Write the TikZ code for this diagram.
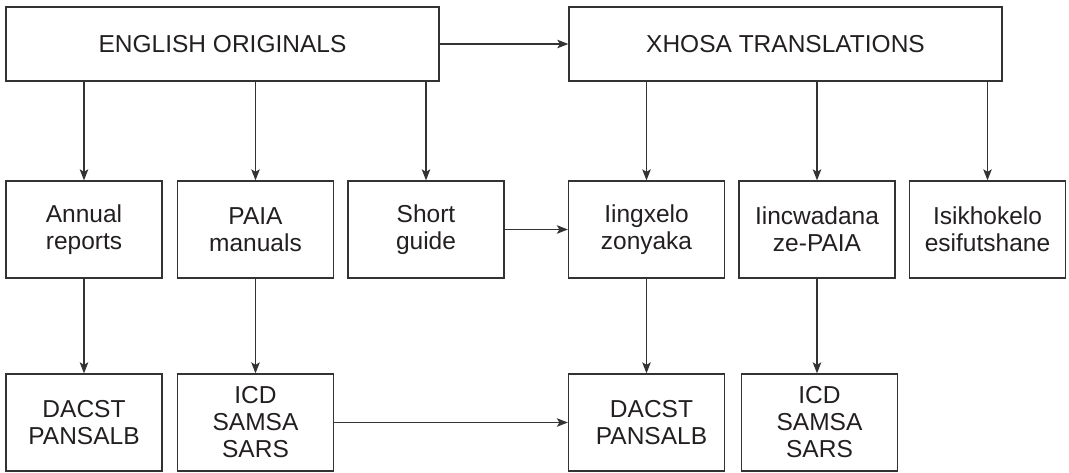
\documentclass[tikz,border=0pt]{standalone}
\usepackage{fontspec}
\setmainfont{Liberation Sans}
\usetikzlibrary{arrows.meta}
\definecolor{ink}{HTML}{333333}
\definecolor{txt}{HTML}{231F20}
\begin{document}
\begin{tikzpicture}[x=1pt,y=-1pt,
  box/.style={draw=ink,line width=1.3pt,align=center,inner sep=0pt,
    text=txt,font=\fontsize{24.5}{27}\selectfont},
  wide/.style={box,minimum width=433pt,minimum height=74pt},
  cell/.style={box,minimum width=156pt,minimum height=97pt},
  arr/.style={draw=ink,line width=1.3pt,-{Stealth[length=11pt,width=8.5pt,inset=2.5pt]}}]
\useasboundingbox (0,0) rectangle (1069,472);
\node[wide] (eng) at (222.5,44) {ENGLISH ORIGINALS};
\node[wide] (xho) at (785.5,44) {XHOSA TRANSLATIONS};
\node[cell] (ann) at (84,229.5) {Annual\\reports};
\node[cell] (paia) at (255.5,229.5) {PAIA\\manuals};
\node[cell] (short) at (426,229.5) {Short\\guide};
\node[cell] (iing) at (646.5,229.5) {Iingxelo\\zonyaka};
\node[cell] (iinc) at (817,229.5) {Iincwadana\\ze-PAIA};
\node[cell] (isik) at (987.5,229.5) {Isikhokelo\\esifutshane};
\node[cell] (dac1) at (84,422.5) {DACST\\PANSALB};
\node[cell] (icd1) at (255.5,422.5) {ICD\\SAMSA\\SARS};
\node[cell] (dac2) at (646.5,422.5) {\hspace*{10pt}DACST\\\hspace*{10pt}PANSALB};
\node[cell] (icd2) at (819.5,422.5) {ICD\\SAMSA\\SARS};
\draw[arr] (eng) -- (xho);
\foreach \n in {ann,paia,short} \draw[arr] (eng.south -| \n) -- (\n);
\foreach \n in {iing,iinc,isik} \draw[arr] (xho.south -| \n) -- (\n);
\draw[arr] (short) -- (iing);
\draw[arr] (ann) -- (dac1);
\draw[arr] (paia) -- (icd1);
\draw[arr] (iing) -- (dac2);
\draw[arr] (iinc.south) -- (iinc.south |- icd2.north);
\draw[arr] (icd1) -- (dac2);
\end{tikzpicture}
\end{document}
